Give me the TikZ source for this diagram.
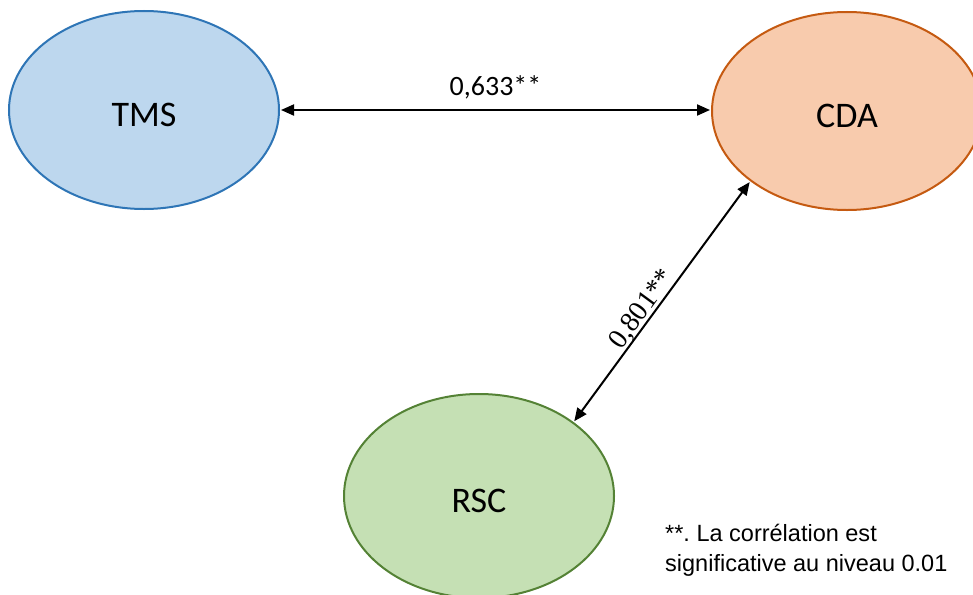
\documentclass[tikz,border=0pt]{standalone}
\usepackage{fontspec}
\setmainfont{Carlito}
\newfontfamily\serifnum{Liberation Serif}
\newfontfamily\arialf{Liberation Sans}
\usetikzlibrary{shapes.geometric,arrows.meta}
\definecolor{tmsfill}{HTML}{BDD7EE}
\definecolor{tmsline}{HTML}{2E75B6}
\definecolor{cdafill}{HTML}{F8CBAD}
\definecolor{cdaline}{HTML}{C55A11}
\definecolor{rscfill}{HTML}{C5E0B4}
\definecolor{rscline}{HTML}{548235}
\tikzset{
  var/.style={ellipse, line width=2pt, minimum width=270pt, minimum height=198pt, inner sep=0pt,
    text height=32pt, text depth=0pt, font=\fontsize{36}{40}\selectfont},
  link/.style={line width=2pt, {Triangle[length=13pt,width=11pt]}-{Triangle[length=13pt,width=11pt]}, shorten <=1pt, shorten >=1pt},
  lab/.style={font=\fontsize{28}{32}\selectfont, inner sep=0pt}
}
\begin{document}
\begin{tikzpicture}[x=1pt,y=-1pt]
\useasboundingbox (0,0) rectangle (973,594);
\clip (0,0) rectangle (973,594);
\node[var, fill=tmsfill, draw=tmsline] (tms) at (144,110) {TMS};
\node[var, fill=cdafill, draw=cdaline] (cda) at (847,111) {CDA};
\node[var, fill=rscfill, draw=rscline, minimum height=204pt] (rsc) at (479,496) {RSC};
\draw[link] (tms.east) -- (tms.east -| cda.west)
  node[lab, midway, anchor=base, yshift=15pt] {0,633**};
\draw[link] (rsc.38.4) -- (cda.216.2)
  node[lab, pos=0.44, sloped, anchor=base, yshift=4pt, font=\serifnum\fontsize{28}{32}\selectfont] {0,801**};
\node[anchor=base west, inner sep=0pt, align=left, font=\arialf\fontsize{23.5}{30}\selectfont\frenchspacing] (note) at (665,571.7)
  {**. La corrélation est\\significative au niveau 0.01};
\end{tikzpicture}
\end{document}
